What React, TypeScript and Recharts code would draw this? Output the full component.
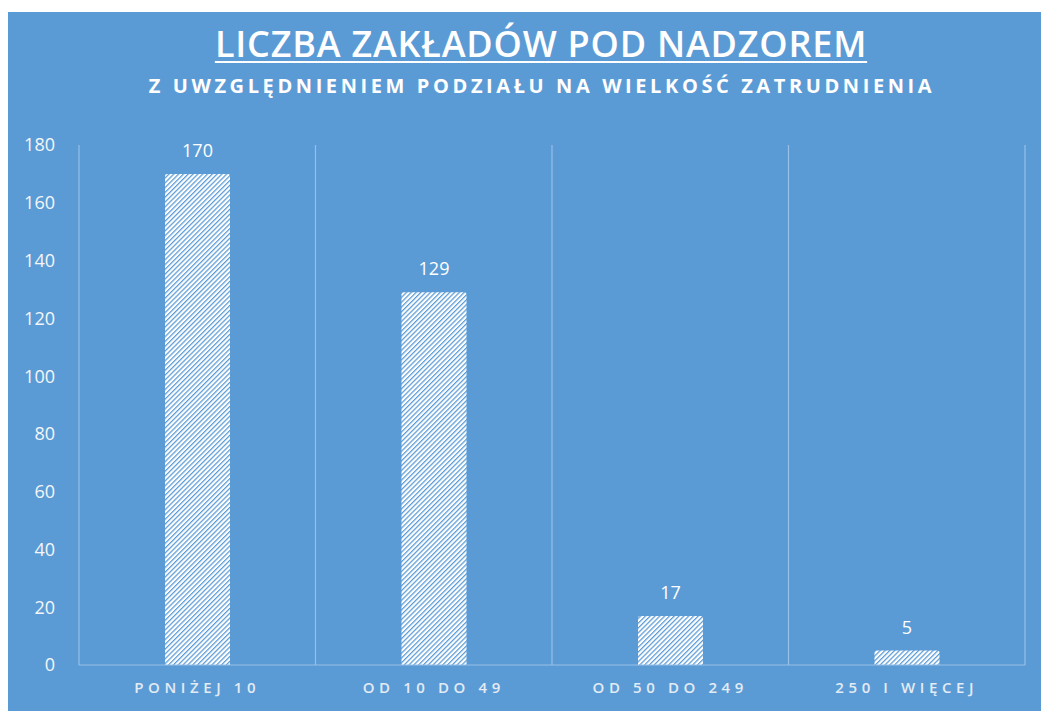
import React from 'react';
import { BarChart, Bar, XAxis, YAxis, CartesianGrid, LabelList } from 'recharts';

const categories = ['PONIŻEJ 10', 'OD 10 DO 49', 'OD 50 DO 249', '250 I WIĘCEJ'];
const counts = [170, 129, 17, 5];
const yTicks = [0, 20, 40, 60, 80, 100, 120, 140, 160, 180];

const data = categories.map((name, i) => ({ name, count: counts[i] }));

const BLUE = '#5b9bd5';
const GRID = '#95c0e8';

const App: React.FC = () => {
  return (
    <div style={{ position: 'fixed', left: 8, top: 12, width: 1040, height: 700, overflow: 'hidden', background: BLUE, fontFamily: 'Open Sans, sans-serif' }}>
      <style>{'html,body{margin:0;overflow:hidden}'}</style>
      <div
        style={{
          position: 'absolute',
          left: 533,
          top: 10,
          transform: 'translateX(-50%)',
          whiteSpace: 'nowrap',
          color: '#fff',
          fontSize: 36,
          fontWeight: 600,
          letterSpacing: 0.8,
          lineHeight: '44px',
          textDecoration: 'underline',
          textDecorationThickness: 2,
          textUnderlineOffset: 4,
        }}
      >
        LICZBA ZAKŁADÓW POD NADZOREM
      </div>
      <div
        style={{
          position: 'absolute',
          left: 534,
          top: 61,
          transform: 'translateX(-50%)',
          whiteSpace: 'nowrap',
          color: '#fff',
          fontSize: 20,
          fontWeight: 700,
          letterSpacing: 3.6,
          lineHeight: '26px',
        }}
      >
        Z UWZGLĘDNIENIEM PODZIAŁU NA WIELKOŚĆ ZATRUDNIENIA
      </div>
      <div style={{ position: 'absolute', left: 0, top: 0 }}>
        <BarChart width={1040} height={699} data={data} margin={{ top: 133, right: 23, left: 21, bottom: 16 }} barSize={65}>
          <defs>
            <pattern id="hatch" width={3.4} height={3.4} patternUnits="userSpaceOnUse" patternTransform="rotate(45)">
              <rect width={3.4} height={3.4} fill="#ffffff" />
              <line x1={0.6} y1={0} x2={0.6} y2={3.4} stroke={BLUE} strokeWidth={1.3} />
            </pattern>
          </defs>
          <CartesianGrid
            horizontal={false}
            stroke={GRID}
            strokeWidth={1.2}
            verticalCoordinatesGenerator={({ offset }: any) =>
              [0, 1, 2, 3, 4].map((i) => offset.left + (i * offset.width) / 4)
            }
          />
          <XAxis
            dataKey="name"
            axisLine={{ stroke: GRID, strokeWidth: 1.2 }}
            tickLine={false}
            tickSize={0}
            tickMargin={17}
            height={30}
            tick={{ fill: '#e3ebf4', fontSize: 15, fontWeight: 600, letterSpacing: 4.6, fontFamily: 'Open Sans, sans-serif' }}
          />
          <YAxis
            domain={[0, 180]}
            ticks={yTicks}
            axisLine={false}
            tickLine={false}
            tickSize={0}
            tickMargin={24}
            width={50}
            tick={{ fill: '#f4f6f8', fontSize: 18, fontFamily: 'Open Sans, sans-serif' }}
          />
          <Bar dataKey="count" fill="url(#hatch)" radius={[2, 2, 0, 0]} isAnimationActive={false}>
            <LabelList dataKey="count" position="top" offset={17} fill="#ffffff" fontSize={18} fontFamily="Open Sans, sans-serif" />
          </Bar>
        </BarChart>
      </div>
    </div>
  );
};

export default App;
